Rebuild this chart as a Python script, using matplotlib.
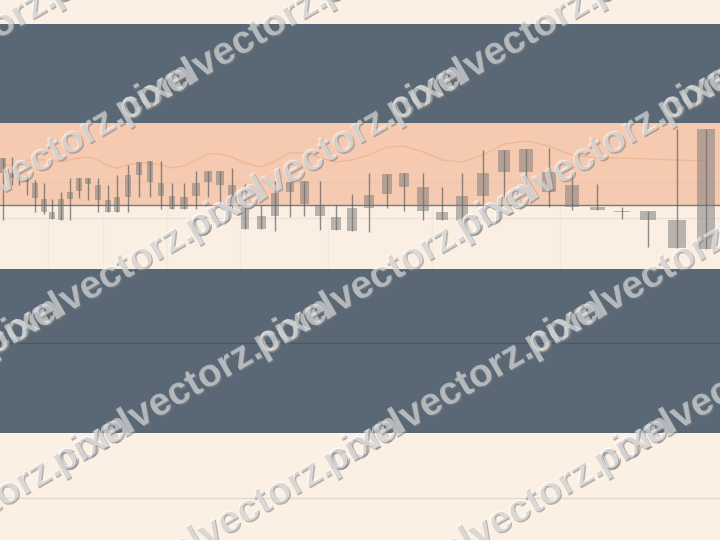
import numpy as np
import matplotlib
matplotlib.use('Agg')
import matplotlib.pyplot as plt
import matplotlib.patheffects as pe

# candle positions (chart is drawn in perspective, so spacing widens to the right)
x_pos = [3, 12, 19, 27, 35, 44, 52, 61, 70, 79,
         88, 98, 108, 117, 128, 139, 150, 161, 172, 184,
         196, 208, 220, 232, 245, 261, 275, 290, 304, 320,
         336, 352, 369, 387, 404, 423, 442, 462, 483, 504,
         526, 549, 572, 597, 622, 648, 677, 706]

highs = [92, 93, 78, 75, 70, 67, 51, 58, 72, 72,
         72, 72, 65, 75, 85, 88, 89, 89, 67, 67,
         79, 79, 79, 82, 66, 45, 69, 68, 69, 69,
         45, 56, 77, 76, 77, 77, 63, 77, 100, 100,
         101, 102, 78, 66, 43, 39, 121, 121]
body_top = [92, 77, 73, 73, 67, 51, 38, 51, 58, 72,
            72, 65, 50, 53, 75, 88, 89, 67, 54, 53,
            67, 79, 79, 65, 45, 34, 57, 68, 69, 45,
            33, 42, 55, 76, 77, 63, 38, 54, 77, 100,
            101, 78, 65, 43, 39, 39, 30, 121]
body_bot = [77, 72, 71, 68, 52, 38, 31, 30, 51, 59,
            66, 50, 38, 38, 53, 75, 68, 54, 41, 41,
            54, 68, 65, 47, 21, 21, 34, 58, 46, 34,
            20, 19, 42, 56, 63, 39, 30, 29, 54, 78,
            78, 58, 43, 40, 38, 30, 2, 1]
lows = [30, 65, 65, 55, 38, 36, 31, 30, 30, 52,
        50, 38, 38, 38, 38, 53, 53, 41, 41, 41,
        41, 53, 45, 40, 21, 21, 19, 33, 34, 20,
        20, 19, 18, 42, 39, 30, 30, 29, 43, 53,
        66, 43, 40, 40, 31, 3, 2, 1]
ma = [85, 85, 87, 89, 91, 90, 89, 88, 90, 92,
      93, 90, 84, 82, 85, 87, 87, 85, 82, 84,
      90, 96, 96, 93, 87, 83, 89, 97, 97, 92,
      88, 90, 95, 103, 104, 98, 90, 88, 95, 106,
      109, 104, 95, 92, 92, 91, 90, 89]
baseline = 45

cream = '#fcf0e4'
slate = '#5a6876'

fig = plt.figure(figsize=(7.2, 5.4), dpi=100)
fig.patch.set_facecolor(cream)

# background bands (pixel space)
bg = fig.add_axes([0, 0, 1, 1])
bg.set_xlim(0, 720)
bg.set_ylim(540, 0)
bg.axis('off')
bg.axhspan(24, 123, color=slate, lw=0)
bg.axhspan(269, 433, color=slate, lw=0)
bg.axhline(343, color='#4b5764', lw=1)
bg.axhline(498, color='#e3d7cc', lw=1)

# candlestick panel
ax = fig.add_axes([0, (540 - 269) / 540, 1, 146 / 540])
ax.set_xlim(0, 720)
ax.set_ylim(-19, 127)
ax.set_facecolor('none')
for s in ax.spines.values():
    s.set_visible(False)
ax.set_xticks([])
ax.set_yticks([])
ax.axhspan(baseline, 127, color='#f5cab0', lw=0, zorder=0)
ax.axhspan(-19, baseline, color='#fbeee3', lw=0, zorder=0)
for gx in [48, 103, 167, 240, 328, 432, 560]:
    ax.axvline(gx, color='#d9cfc6', lw=0.8, alpha=0.2, zorder=0.5)
for gy in [68, 32]:
    ax.axhline(gy, color='#d9c4b6', lw=0.8, alpha=0.35, zorder=0.5)
ax.axhline(baseline, color='#717a83', lw=1, zorder=1)

x = np.array(x_pos, dtype=float)
widths = np.gradient(x) * 0.6
top = np.array(body_top, dtype=float)
bot = np.array(body_bot, dtype=float)
heights = np.maximum(top - bot, 1.2)

ax.plot(x, ma, color='#eeb08c', lw=1, alpha=0.7, zorder=1.5)
ax.vlines(x, lows, highs, color='#5e5e5e', lw=1, alpha=0.7, zorder=2)
ax.bar(x, heights, bottom=bot, width=widths, color='#777777', alpha=0.5, zorder=3)

# watermark
wm_font = 'Liberation Sans'
renderer = fig.canvas.get_renderer()
probe = fig.text(0, 0, 'pixelvectorz.', fontsize=20, weight='bold', family=wm_font)
w = probe.get_window_extent(renderer).width
probe.remove()
fs = 20 * 236 / w

for j in range(-4, 6):
    for i in range(-4, 6):
        px = 124 + 202 * i + 271 * j
        py = 123 - 117 * i
        if px < -320 or px > 740 or py < -30 or py > 640:
            continue
        fig.text(px / 720, 1 - py / 540, 'pixelvectorz.com', fontsize=fs,
                 weight='bold', family=wm_font, color='white', alpha=0.5, rotation=30,
                 rotation_mode='anchor', ha='left', va='baseline',
                 path_effects=[pe.SimplePatchShadow(offset=(1, -1), shadow_rgbFace='#7d7d7d', alpha=0.55),
                               pe.Normal()])

fig.savefig('out.png', dpi=100, facecolor=fig.get_facecolor())
